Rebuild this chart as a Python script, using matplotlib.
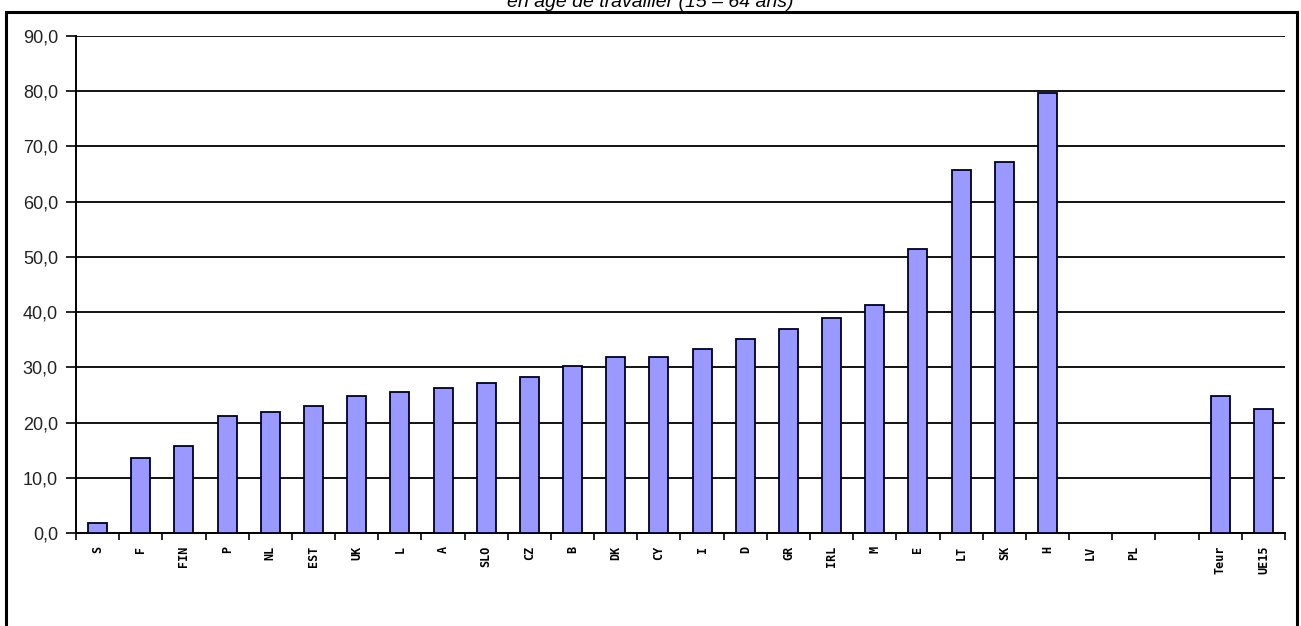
import numpy as np
import matplotlib.pyplot as plt
from matplotlib.patches import Rectangle

# country codes (blank slot before the aggregates)
categories = ['S', 'F', 'FIN', 'P', 'NL', 'EST', 'UK', 'L', 'A', 'SLO', 'CZ', 'B',
              'DK', 'CY', 'I', 'D', 'GR', 'IRL', 'M', 'E', 'LT', 'SK', 'H', 'LV',
              'PL', '', 'Teur', 'UE15']
values = [1.8, 13.5, 15.7, 21.1, 21.9, 23.0, 24.8, 25.5, 26.3, 27.1, 28.2, 30.3,
          31.8, 31.9, 33.3, 35.2, 37.0, 39.0, 41.2, 51.4, 65.7, 67.2, 79.7, np.nan,
          np.nan, np.nan, 24.8, 22.4]
yticks = [0, 10, 20, 30, 40, 50, 60, 70, 80, 90]

fig = plt.figure(figsize=(13.01, 6.26), dpi=100)
fig.patch.set_facecolor('white')

# outer frame of the chart object
fig.patches.append(Rectangle((6 / 1301, -0.05), 1291 / 1301, 1 - 12 / 626 + 0.05,
                             transform=fig.transFigure, fill=False,
                             edgecolor='black', linewidth=2.2))

# title is cut by the top edge in the original image
fig.text(0.5, 1 - 7 / 626, 'en âge de travailler (15 – 64 ans)', ha='center',
         va='baseline', fontsize=14, style='italic', family='Liberation Sans')

ax = fig.add_axes([76 / 1301, 1 - 533 / 626, (1285 - 76) / 1301, (533 - 36) / 626])

x = np.arange(len(categories))
vals = np.array(values, dtype=float)
mask = ~np.isnan(vals)
ax.bar(x[mask], vals[mask], width=0.44, color='#9999FF', edgecolor='#000022',
       linewidth=1.3, zorder=3)

ax.set_xlim(-0.5, len(categories) - 0.5)
ax.set_ylim(0, 90)

ax.set_yticks(yticks)
ax.set_yticklabels([f'{v:.1f}'.replace('.', ',') for v in yticks],
                   fontsize=13, family='Liberation Sans', color='#222222')
ax.yaxis.grid(True, color='black', linewidth=1.3, zorder=1)
ax.tick_params(axis='y', length=7, width=1.2, direction='out', pad=6)

# ticks between categories, labels centred on categories
ax.set_xticks(np.arange(len(categories) + 1) - 0.5)
ax.set_xticklabels([])
ax.tick_params(axis='x', which='major', length=5, width=1.2, direction='out')
ax.set_xticks(x, minor=True)
ax.set_xticklabels(categories, minor=True, rotation=90, fontsize=8.5,
                   family='DejaVu Sans Mono', fontweight='bold')
ax.tick_params(axis='x', which='minor', length=0, pad=9)

for side in ['top', 'right']:
    ax.spines[side].set_visible(False)
for side in ['left', 'bottom']:
    ax.spines[side].set_linewidth(1.4)
    ax.spines[side].set_color('black')

fig.savefig('out.png', dpi=100)
